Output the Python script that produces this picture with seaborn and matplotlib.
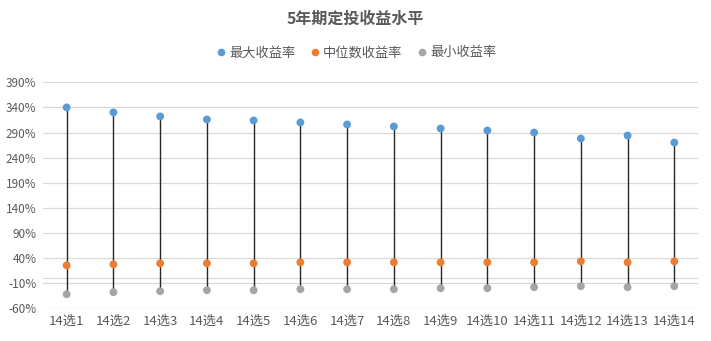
import matplotlib
matplotlib.use("Agg")
import matplotlib.pyplot as plt
import seaborn as sns
import pandas as pd
import numpy as np

categories = ["14选1", "14选2", "14选3", "14选4", "14选5", "14选6", "14选7",
              "14选8", "14选9", "14选10", "14选11", "14选12", "14选13", "14选14"]
max_vals = [340, 330, 322, 316, 314, 310, 306, 302, 298, 294, 290, 278, 284, 270]
med_vals = [25.5, 27.5, 29.5, 29.5, 29.5, 31.5, 31.5, 31.5, 31.5, 31.5, 31.5, 33.5, 31.5, 33.5]
min_vals = [-32, -28, -26, -24, -24, -22, -22, -22, -20, -20, -18, -16, -18, -16]
series_names = ["最大收益率", "中位数收益率", "最小收益率"]
yticks = list(range(-60, 391, 50))

sns.set_theme(style="white")
plt.rcParams["font.family"] = ["Noto Sans CJK SC", "DejaVu Sans"]

colors = ["#5B9BD5", "#ED7D31", "#A5A5A5"]
text_color = "#595959"

df = pd.DataFrame({
    "cat": categories * 3,
    "val": max_vals + med_vals + min_vals,
    "series": [series_names[0]] * 14 + [series_names[1]] * 14 + [series_names[2]] * 14,
})
df["x"] = df["cat"].map({c: i for i, c in enumerate(categories)})

fig = plt.figure(figsize=(7.11, 3.41), dpi=100)
ax = fig.add_axes([0.0609, 0.0959, 0.9204, 0.6628])

for t in yticks:
    ax.axhline(t, color="#D9D9D9", lw=0.9, zorder=0)
ax.axhline(0, color="#D9D9D9", lw=0.9, zorder=0)

xs = np.arange(len(categories))
ax.vlines(xs, min_vals, max_vals, color="#262626", lw=1.0, zorder=1)

sns.scatterplot(data=df, x="x", y="val", hue="series", palette=colors,
                hue_order=series_names, s=32, edgecolor="none", ax=ax, zorder=3,
                legend=False)

ax.set_xlim(-0.5, len(categories) - 0.5)
ax.set_ylim(-60, 390)
ax.set_yticks(yticks)
ax.set_yticklabels([f"{t}%" for t in yticks], color=text_color, fontsize=8.5)
ax.set_xticks(xs)
ax.set_xticklabels(categories, color=text_color, fontsize=9.5)
ax.tick_params(axis="both", length=0, pad=5)
ax.set_xlabel("")
ax.set_ylabel("")
for s in ax.spines.values():
    s.set_visible(False)

fig.text(0.5, 0.945, "5年期定投收益水平", ha="center", va="center",
         fontsize=11.5, fontweight="bold", color=text_color)

from matplotlib.lines import Line2D
handles = [Line2D([0], [0], marker="o", color="none", markerfacecolor=c,
                  markeredgecolor="none", markersize=5.5) for c in colors]
fig.legend(handles, series_names, loc="center", bbox_to_anchor=(0.5, 0.845),
           ncol=3, frameon=False, fontsize=9.5, handletextpad=0.1,
           columnspacing=1.0, handlelength=1.0, labelcolor=text_color)

fig.savefig("out.png", dpi=100)
